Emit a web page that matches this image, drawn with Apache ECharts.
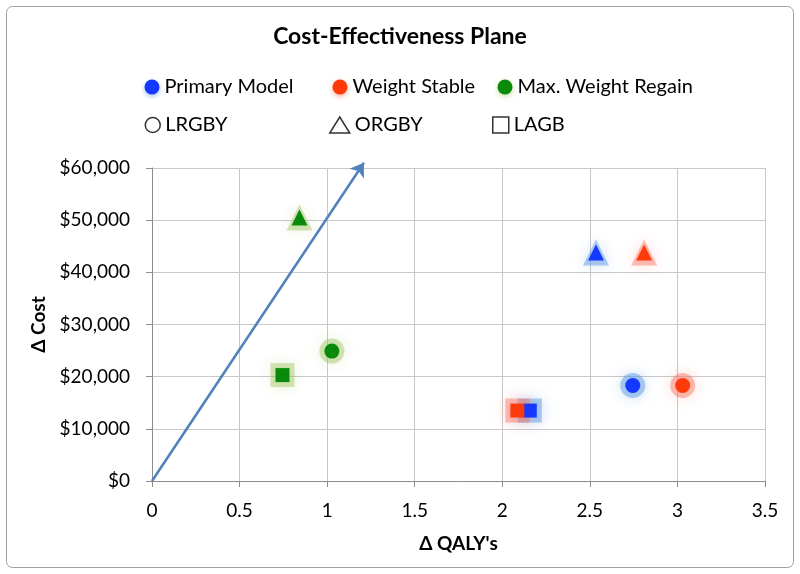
<!DOCTYPE html>
<html><head><meta charset="utf-8">
<script src="https://cdn.jsdelivr.net/npm/echarts@6/dist/echarts.min.js"></script>
<style>html,body{margin:0;padding:0;background:#fff}#c{width:800px;height:574px}</style>
</head><body><div id="c"></div>
<script>
// Data
var shapes = ['circle', 'triangle', 'rect'];         // LRGBY, ORGBY, LAGB
var shapeNames = ['LRGBY', 'ORGBY', 'LAGB'];
var groupNames = ['Primary Model', 'Weight Stable', 'Max. Weight Regain'];
var primaryX = [2.745, 2.535, 2.157];
var primaryY = [18300, 43800, 13500];
var stableX = [3.03, 2.81, 2.086];
var stableY = [18300, 43800, 13500];
var regainX = [1.027, 0.842, 0.745];
var regainY = [24900, 50500, 20300];
var arrowStart = [0, 0];
var arrowEnd = [1.21, 61000];

var FONT = 'Lato';
var colors = ['#1438ff', '#ff3a0a', '#0a8a0a'];
var glows = ['rgba(90,150,225,0.6)', 'rgba(250,110,90,0.55)', 'rgba(150,190,80,0.5)'];
var sizes = [15, 16, 14];

function mk(xs, ys, extra) {
  return xs.map(function (x, i) {
    return { value: [x, ys[i]], symbol: shapes[i], symbolSize: sizes[i] + extra };
  });
}
var groups = [[primaryX, primaryY], [stableX, stableY], [regainX, regainY]];

var series = [];
groups.forEach(function (g, k) {
  series.push({
    type: 'scatter', data: mk(g[0], g[1], 10), silent: true,
    itemStyle: { color: glows[k], shadowBlur: 14, shadowColor: glows[k] },
    z: 2
  });
});
groups.forEach(function (g, k) {
  series.push({
    name: groupNames[k], type: 'scatter', data: mk(g[0], g[1], 0),
    itemStyle: { color: colors[k], opacity: 1 },
    z: 4 + k
  });
});
series.push({
  type: 'lines', coordinateSystem: 'cartesian2d', clip: false, silent: true,
  symbol: ['none', 'arrow'], symbolSize: 13,
  lineStyle: { color: '#4f81bd', width: 2.5, opacity: 1 },
  data: [{ coords: [arrowStart, arrowEnd] }], z: 10
});
shapeNames.forEach(function (n) {
  series.push({ name: n, type: 'scatter', data: [] });
});

var legendPos = [152, 340, 505];
var legendPos2 = [152, 339, 500];
var legends = [];
groupNames.forEach(function (n, k) {
  legends.push({
    left: legendPos[k] - 7.5, top: 77, padding: 0, itemWidth: 15, itemHeight: 15, itemGap: 5,
    data: [{ name: n, icon: 'circle', itemStyle: { color: colors[k], shadowBlur: 5, shadowColor: glows[k], shadowOffsetY: 2 } }],
    textStyle: { fontFamily: FONT, fontSize: 20, color: '#000' }, selectedMode: false
  });
});
var legendIcons = ['circle', 'triangle', 'rect'];
var lw = [15, 20, 16];
shapeNames.forEach(function (n, k) {
  legends.push({
    left: legendPos2[k] - lw[k] / 2, top: 115, padding: 0, itemWidth: lw[k], itemHeight: k === 0 ? 15 : 16, itemGap: 7,
    data: [{ name: n, icon: legendIcons[k], itemStyle: { color: '#fff', borderColor: '#000', borderWidth: 1.5 } }],
    textStyle: { fontFamily: FONT, fontSize: 20, color: '#000' }, selectedMode: false
  });
});

var chart = echarts.init(document.getElementById('c'));
chart.setOption({
  backgroundColor: '#fff',
  animation: false,
  title: {
    text: 'Cost-Effectiveness Plane', left: 'center', top: 20,
    textStyle: { fontFamily: FONT, fontSize: 23, fontWeight: 'bold', color: '#000' }
  },
  legend: legends,
  graphic: [{
    type: 'rect', shape: { x: 6.5, y: 6.5, width: 787, height: 561, r: 6 },
    style: { fill: 'none', stroke: '#a0a0a0', lineWidth: 1 }, silent: true, z: -1
  }],
  grid: { left: 152, right: 35, top: 168, bottom: 93, containLabel: false },
  xAxis: {
    type: 'value', min: 0, max: 3.5, interval: 0.5,
    name: "Δ QALY's", nameLocation: 'middle', nameGap: 53,
    nameTextStyle: { fontFamily: FONT, fontSize: 19, fontWeight: 'bold', color: '#000' },
    axisLine: { show: true, lineStyle: { color: '#8c8c8c' } },
    axisTick: { show: true, inside: false, length: 6, lineStyle: { color: '#8c8c8c' } },
    axisLabel: { fontFamily: FONT, fontSize: 19, color: '#000', margin: 20,
      formatter: function (v) { return String(v); } },
    splitLine: { show: true, lineStyle: { color: '#c8c8c8' } }
  },
  yAxis: {
    type: 'value', min: 0, max: 60000, interval: 10000,
    name: 'Δ Cost', nameLocation: 'middle', nameGap: 103,
    nameTextStyle: { fontFamily: FONT, fontSize: 19, fontWeight: 'bold', color: '#000' },
    axisLine: { show: true, lineStyle: { color: '#8c8c8c' } },
    axisTick: { show: true, inside: false, length: 6, lineStyle: { color: '#8c8c8c' } },
    axisLabel: { fontFamily: FONT, fontSize: 19, color: '#000', margin: 22,
      formatter: function (v) { return '$' + v.toLocaleString('en-US'); } },
    splitLine: { show: true, lineStyle: { color: '#c8c8c8' } }
  },
  series: series
});
</script></body></html>
